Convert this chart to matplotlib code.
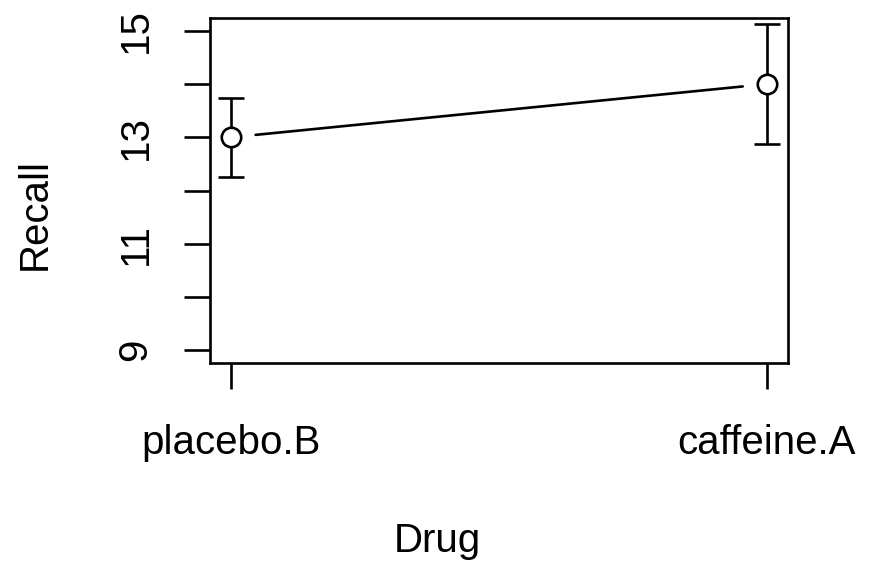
import matplotlib
matplotlib.use("Agg")
import matplotlib.pyplot as plt

# --- data ---
drugs = ["placebo.B", "caffeine.A"]
recall_mean = [13.0, 14.0]
ci_low = [12.26, 12.88]
ci_high = [13.74, 15.12]
y_ticks = [9, 10, 11, 12, 13, 14, 15]
y_labels = ["9", "", "11", "", "13", "", "15"]

plt.rcParams["font.family"] = ["Liberation Sans", "DejaVu Sans"]
FS = 29
LW = 1.9

fig = plt.figure(figsize=(8.74, 5.63), dpi=100)
ax = fig.add_axes([0.2403, 0.3552, 0.6617, 0.6128])

x = [1, 2]
yerr = [[m - lo for m, lo in zip(recall_mean, ci_low)],
        [hi - m for m, hi in zip(recall_mean, ci_high)]]

ax.errorbar(x, recall_mean, yerr=yerr, fmt="o", mfc="white", mec="black",
            ms=14, mew=LW, ecolor="black", elinewidth=LW, capsize=9.5,
            capthick=LW, color="black", zorder=2)
# line between points with gaps (R type="b")
ax.annotate("", xy=(x[1], recall_mean[1]), xytext=(x[0], recall_mean[0]),
            arrowprops=dict(arrowstyle="-", color="black", lw=LW,
                            shrinkA=17.5, shrinkB=17.5))

ax.set_xlim(0.96, 2.04)
ax.set_ylim(8.76, 15.24)
ax.set_xticks(x)
ax.set_xticklabels(drugs, fontsize=FS)
ax.set_yticks(y_ticks)
ax.set_yticklabels(y_labels, fontsize=FS, rotation=90, va="center")

ax.tick_params(axis="both", direction="out", length=19, width=LW)
ax.tick_params(axis="x", pad=25)
ax.tick_params(axis="y", pad=21)
for s in ax.spines.values():
    s.set_linewidth(LW)

fig.text(0.5, 1 - 541 / 563, "Drug", fontsize=FS, ha="center", va="center")
fig.text(35 / 874, 0.62, "Recall", fontsize=FS, ha="center", va="center",
         rotation=90)

fig.savefig("out.png", dpi=100)
